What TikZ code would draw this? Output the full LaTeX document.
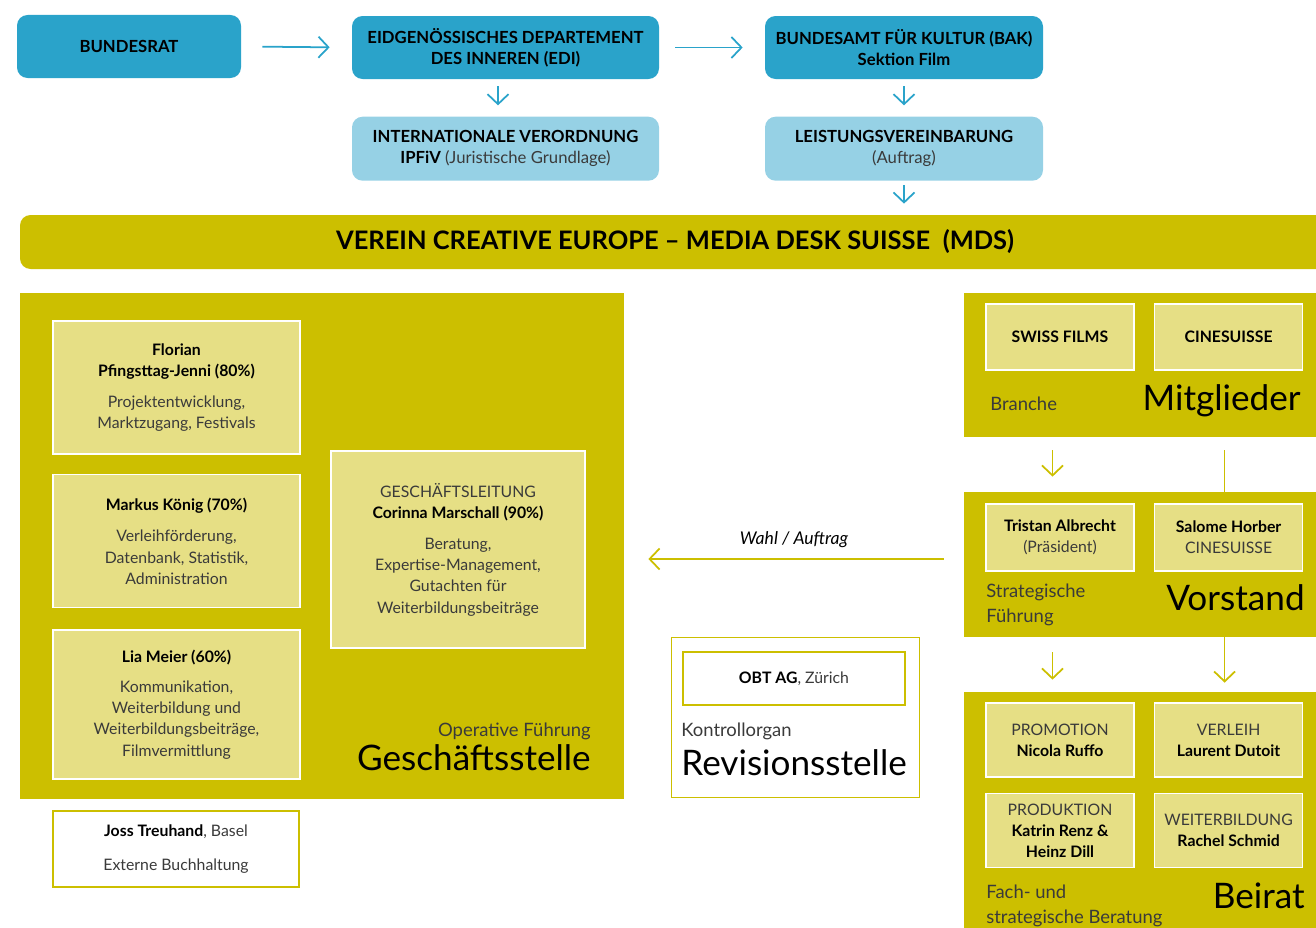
\documentclass[tikz,border=0pt]{standalone}
\usepackage{fontspec}
\setmainfont{Lato}
\usetikzlibrary{arrows.meta, positioning}

\definecolor{bakblue}{RGB}{42,163,202}
\definecolor{lightblue}{RGB}{150,209,229}
\definecolor{mdsolive}{RGB}{204,191,0}
\definecolor{mdslight}{RGB}{230,223,133}
\definecolor{textgray}{RGB}{58,58,58}

\newcommand{\kop}[1]{{\bfseries\color{black}#1}}

\begin{document}
\begin{tikzpicture}
    % Stijlen
    \tikzstyle{topbox} = [rectangle, rounded corners=6pt, fill=bakblue, minimum height=1.26cm, align=center, font=\fontsize{9.5}{12}\selectfont\bfseries]
    \tikzstyle{basebox} = [topbox, fill=lightblue, minimum height=1.28cm]
    \tikzstyle{panel} = [rectangle, fill=mdsolive, inner sep=0pt]
    \tikzstyle{person} = [rectangle, draw=white, line width=0.9pt, fill=mdslight, align=center, font=\fontsize{9}{12}\selectfont, text=textgray]
    \tikzstyle{smallbox} = [person, minimum width=2.96cm]
    \tikzstyle{caption} = [inner sep=0pt, align=left, font=\fontsize{10.5}{14}\selectfont, text=textgray]
    \tikzstyle{bigtitle} = [inner sep=0pt, font=\fontsize{20}{23}\selectfont]
    \tikzstyle{bluearrow} = [draw=bakblue, line width=1pt, -{Straight Barb[length=0.2cm, width=0.42cm]}]
    \tikzstyle{olivearrow} = [bluearrow, draw=mdsolive]
    \tikzstyle{oliveline} = [draw=mdsolive, line width=1pt]

    \useasboundingbox (0,0) rectangle (26.32,-18.56);
    \clip (0,0) rectangle (26.32,-18.56);

    % Bund
    \node (bundesrat) [topbox, minimum width=4.48cm] at (2.58,-0.93) {BUNDESRAT};
    \node (edi) [topbox, minimum width=6.14cm] at (10.11,-0.95) {EIDGENÖSSISCHES DEPARTEMENT\\DES INNEREN (EDI)};
    \node (bak) [topbox, minimum width=5.56cm] at (18.08,-0.95) {BUNDESAMT FÜR KULTUR (BAK)\\Sektion Film};
    \node (ipfiv) [basebox, minimum width=6.14cm, below=0.74cm of edi] {INTERNATIONALE VERORDNUNG\\IPFiV {\mdseries\color{textgray}(Juristische Grundlage)}};
    \node (leistung) [basebox, minimum width=5.56cm, below=0.74cm of bak] {LEISTUNGSVEREINBARUNG\\{\mdseries\color{textgray}(Auftrag)}};

    % Verein
    \node (mds) [rectangle, rounded corners=6pt, fill=mdsolive, minimum width=26.2cm, minimum height=1.08cm, font=\fontsize{14.5}{17}\selectfont\bfseries] at (13.5,-4.84) {VEREIN CREATIVE EUROPE – MEDIA DESK SUISSE \ (MDS)};

    % Pijlen bovenaan
    \draw [bluearrow, shorten <=0.42cm, shorten >=0.44cm] (bundesrat.east) -- (edi.west);
    \draw [bluearrow, shorten <=0.32cm, shorten >=0.44cm] (edi.east) -- (bak.west);
    \draw [bluearrow, shorten <=0.14cm, shorten >=0.22cm] ([xshift=-0.15cm]edi.south) -- ([xshift=-0.15cm]ipfiv.north);
    \draw [bluearrow, shorten <=0.14cm, shorten >=0.22cm] (bak.south) -- (leistung.north);
    \draw [bluearrow, shorten <=0.08cm, shorten >=0.22cm] (leistung.south) -- (leistung.south |- mds.north);

    % Geschäftsstelle
    \node (gs) [panel, minimum width=12.08cm, minimum height=10.12cm] at (6.44,-10.92) {};
    \node (florian) [person, minimum width=4.94cm, minimum height=2.66cm] at (3.53,-7.75) {\kop{Florian}\\\kop{Pfingsttag-Jenni (80\%)}\\[6pt]Projektentwicklung,\\Marktzugang, Festivals};
    \node (markus) [person, minimum width=4.94cm, minimum height=2.66cm, below=0.38cm of florian] {\kop{Markus König (70\%)}\\[6pt]Verleihförderung,\\Datenbank, Statistik,\\Administration};
    \node (lia) [person, minimum width=4.94cm, minimum height=2.98cm, below=0.42cm of markus] {\kop{Lia Meier (60\%)}\\[5pt]Kommunikation,\\Weiterbildung und\\Weiterbildungsbeiträge,\\Filmvermittlung};
    \node (leitung) [person, minimum width=5.08cm, minimum height=3.94cm] at (9.16,-10.99) {GESCHÄFTSLEITUNG\\\kop{Corinna Marschall (90\%)}\\[6pt]Beratung,\\Expertise-Management,\\Gutachten für\\Weiterbildungsbeiträge};
    \node (gsrol) [caption, anchor=base east] at (11.82,-14.72) {Operative Führung};
    \node (gsname) [bigtitle, anchor=base east] at (11.82,-15.4) {Geschäftsstelle};
    \node (joss) [person, fill=white, draw=mdsolive, minimum width=4.92cm, minimum height=1.52cm] at (3.52,-16.98) {\kop{Joss Treuhand}, Basel\\[7pt]Externe Buchhaltung};

    % Revisionsstelle
    \node (revision) [rectangle, draw=mdsolive, line width=0.5pt, minimum width=4.96cm, minimum height=3.2cm] at (15.9,-14.34) {};
    \node (obt) [rectangle, draw=mdsolive, line width=1.2pt, minimum width=4.44cm, minimum height=1.06cm, font=\fontsize{9}{12}\selectfont, text=textgray] at (15.88,-13.57) {\kop{OBT AG}, Zürich};
    \node (revrol) [caption, anchor=base west] at (13.62,-14.72) {Kontrollorgan};
    \node (revname) [bigtitle, anchor=base west] at (13.62,-15.5) {Revisionsstelle};

    % Mitglieder
    \node (mitglieder) [panel, minimum width=7.32cm, minimum height=2.88cm] at (22.94,-7.3) {};
    \node (swissfilms) [smallbox, minimum height=1.32cm, font=\fontsize{9}{12}\selectfont\bfseries, text=black] at (21.2,-6.74) {SWISS FILMS};
    \node (cinesuisse) [smallbox, minimum height=1.32cm, font=\fontsize{9}{12}\selectfont\bfseries, text=black, right=0.38cm of swissfilms] {CINESUISSE};
    \node (branche) [caption, anchor=base west] at (19.8,-8.2) {Branche};
    \node (mitname) [bigtitle, anchor=base east] at (26.02,-8.2) {Mitglieder};

    % Vorstand
    \node (vorstand) [panel, minimum width=7.32cm, minimum height=2.9cm] at (22.94,-11.29) {};
    \node (tristan) [smallbox, minimum height=1.34cm] at (21.2,-10.75) {\kop{Tristan Albrecht}\\(Präsident)};
    \node (salome) [smallbox, minimum height=1.34cm, right=0.38cm of tristan] {\kop{Salome Horber}\\CINESUISSE};
    \node (vorrol) [caption, anchor=north west] at (19.72,-11.68) {Strategische\\Führung};
    \node (vorname) [bigtitle, anchor=base east] at (26.1,-12.2) {Vorstand};

    % Beirat
    \node (beirat) [panel, minimum width=7.32cm, minimum height=5.16cm] at (22.94,-16.42) {};
    \node (promotion) [smallbox, minimum height=1.48cm] at (21.2,-14.8) {PROMOTION\\\kop{Nicola Ruffo}};
    \node (verleih) [smallbox, minimum height=1.48cm, right=0.38cm of promotion] {VERLEIH\\\kop{Laurent Dutoit}};
    \node (produktion) [smallbox, minimum height=1.48cm, below=0.3cm of promotion] {PRODUKTION\\\kop{Katrin Renz \&}\\\kop{Heinz Dill}};
    \node (weiterbildung) [smallbox, minimum height=1.48cm, right=0.38cm of produktion] {WEITERBILDUNG\\\kop{Rachel Schmid}};
    \node (beirol) [caption, anchor=north west] at (19.72,-17.7) {Fach- und\\strategische Beratung};
    \node (beiname) [bigtitle, anchor=base east] at (26.1,-18.16) {Beirat};

    % Verbindingen rechts
    \draw [olivearrow, shorten <=0.26cm, shorten >=0.3cm] ([xshift=-0.15cm]swissfilms.south |- mitglieder.south) -- ([xshift=-0.15cm]swissfilms.south |- vorstand.north);
    \draw [oliveline, shorten <=0.26cm] ([xshift=-0.08cm]cinesuisse.south |- mitglieder.south) -- ([xshift=-0.08cm]cinesuisse.south |- vorstand.north);
    \draw [olivearrow, shorten <=0.3cm, shorten >=0.24cm] ([xshift=-0.15cm]swissfilms.south |- vorstand.south) -- ([xshift=-0.15cm]swissfilms.south |- beirat.north);
    \draw [olivearrow, shorten >=0.18cm] ([xshift=-0.08cm]cinesuisse.south |- vorstand.south) -- ([xshift=-0.08cm]cinesuisse.south |- beirat.north);

    % Wahl
    \draw [olivearrow, shorten <=0.4cm, shorten >=0.48cm] ([yshift=0.11cm]vorstand.west) -- ([yshift=0.11cm]vorstand.west -| gs.east) node[midway, above=0.1cm, font=\fontsize{10}{12}\selectfont\itshape, text=black] {Wahl / Auftrag};

\end{tikzpicture}
\end{document}
